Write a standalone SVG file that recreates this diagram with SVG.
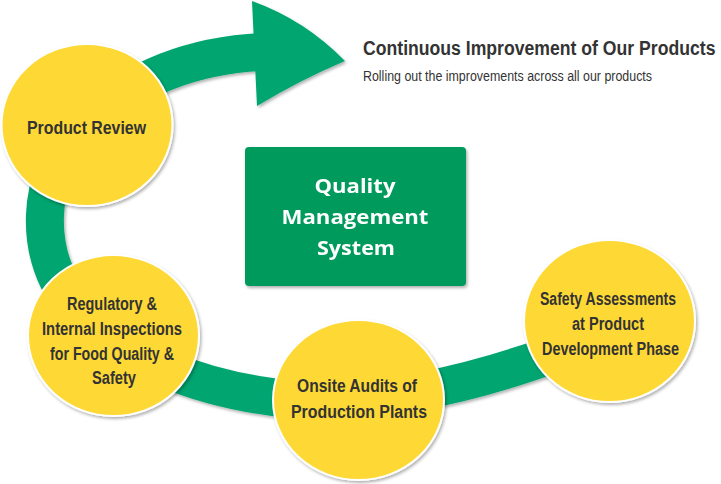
<svg xmlns="http://www.w3.org/2000/svg" width="721" height="484" viewBox="0 0 721 484">
<defs>
<filter id="sh" x="-10%" y="-10%" width="125%" height="125%">
<feDropShadow dx="1.5" dy="2" stdDeviation="1.5" flood-color="#000" flood-opacity="0.3"/>
</filter>
<style>
.band{fill:none;stroke:#00A570;stroke-width:38}
.head{fill:#00A570}
.circ{fill:#FED934;stroke:#fff;stroke-width:2}
.ct{font-family:"Liberation Sans",Arial,sans-serif;font-weight:bold;font-size:18px;fill:#333;text-anchor:middle}
.bt{font-family:"Open Sans","Liberation Sans",sans-serif;font-weight:bold;font-size:20px;fill:#fff;text-anchor:middle}
</style>
</defs>
<rect width="721" height="484" fill="#fff"/>
<g id="connectors" filter="url(#sh)">
<path class="band" d="M 565 350 C 470 385, 380 405, 300 400 C 200 392, 110 355, 70 300 C 35 250, 35 180, 80 130 C 130 75, 200 55, 262 52"/>
<path class="head" d="M 252 1 Q 305 20 345 61 Q 300 80 257 106 Z"/>
</g>
<g id="box" filter="url(#sh)">
<rect x="245" y="147" width="221" height="139" rx="4" fill="#009A5B"/>
<text class="bt" x="355" y="193" textLength="81" lengthAdjust="spacingAndGlyphs">Quality</text>
<text class="bt" x="355" y="224" textLength="147" lengthAdjust="spacingAndGlyphs">Management</text>
<text class="bt" x="356" y="255" textLength="78" lengthAdjust="spacingAndGlyphs">System</text>
</g>
<g id="product-review">
<ellipse class="circ" cx="87" cy="125" rx="85.5" ry="81" filter="url(#sh)"/>
<text class="ct" x="86.5" y="134" textLength="119" lengthAdjust="spacingAndGlyphs">Product Review</text>
</g>
<g id="regulatory">
<ellipse class="circ" cx="113.5" cy="335.5" rx="85.5" ry="80.5" filter="url(#sh)"/>
<text class="ct" x="112" y="310" textLength="90" lengthAdjust="spacingAndGlyphs">Regulatory &amp;</text>
<text class="ct" x="112" y="335" textLength="140" lengthAdjust="spacingAndGlyphs">Internal Inspections</text>
<text class="ct" x="112" y="360" textLength="124" lengthAdjust="spacingAndGlyphs">for Food Quality &amp;</text>
<text class="ct" x="114" y="384" textLength="44" lengthAdjust="spacingAndGlyphs">Safety</text>
</g>
<g id="onsite">
<ellipse class="circ" cx="358.5" cy="400" rx="85.5" ry="80" filter="url(#sh)"/>
<text class="ct" x="357" y="392" textLength="120" lengthAdjust="spacingAndGlyphs">Onsite Audits of</text>
<text class="ct" x="359" y="418" textLength="136" lengthAdjust="spacingAndGlyphs">Production Plants</text>
</g>
<g id="safety">
<ellipse class="circ" cx="609.5" cy="321" rx="85.5" ry="81" filter="url(#sh)"/>
<text class="ct" x="608" y="305" textLength="136" lengthAdjust="spacingAndGlyphs">Safety Assessments</text>
<text class="ct" x="608" y="330" textLength="72" lengthAdjust="spacingAndGlyphs">at Product</text>
<text class="ct" x="610.5" y="355" textLength="137" lengthAdjust="spacingAndGlyphs">Development Phase</text>
</g>
<g id="title">
<text transform="translate(363 55) scale(0.84 1)" x="0" y="0" font-family="Liberation Sans, Arial, sans-serif" font-weight="bold" font-size="21" fill="#333">Continuous Improvement of Our Products</text>
<text x="363" y="81" font-family="Liberation Sans, Arial, sans-serif" font-size="14" fill="#333" textLength="289" lengthAdjust="spacingAndGlyphs">Rolling out the improvements across all our products</text>
</g>
</svg>
